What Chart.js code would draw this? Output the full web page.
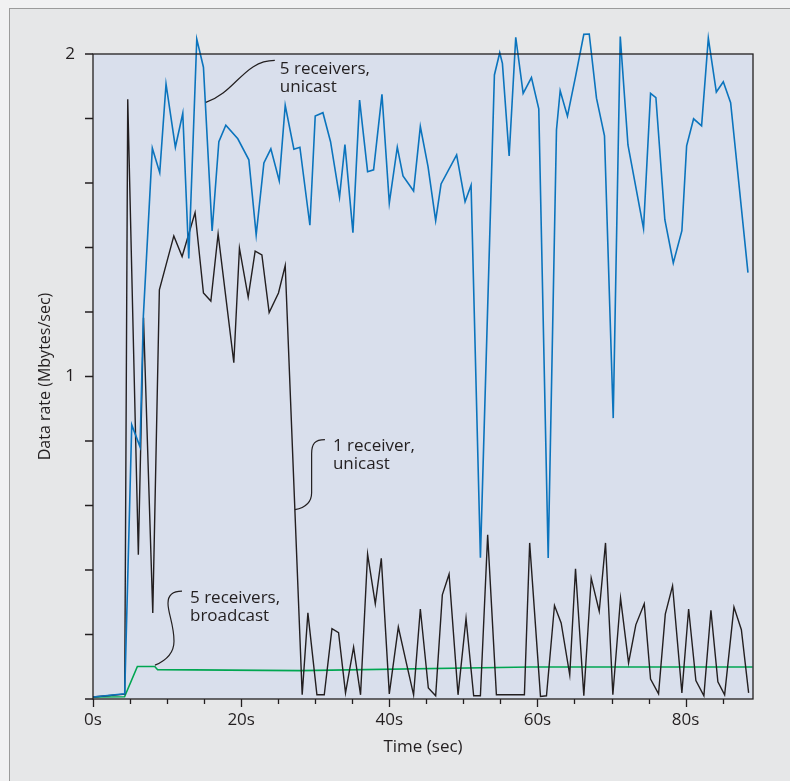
<!DOCTYPE html>
<html lang="en">
<head>
<meta charset="UTF-8">
<title>Data rate</title>
<script src="https://cdn.jsdelivr.net/npm/chart.js@4.4.1/dist/chart.umd.min.js"></script>
<style>
*{
  margin: 0;
  padding: 0;
  box-sizing: border-box;
}
body{
  width: 790px;
  height: 781px;
  overflow: hidden;
  background: #f1f1f2;
  position: relative;
}
.frame{
  position: absolute;
  left: 9px;
  top: 8px;
  width: 800px;
  height: 800px;
  background: #e6e7e8;
  border-left: 1px solid #9b9b9b;
  border-top: 1px solid #9b9b9b;
}
#wrap{
  position: absolute;
  left: 0;
  top: 0;
  width: 790px;
  height: 781px;
}
</style>
</head>
<body>
<div class="frame"></div>
<div id="wrap"><canvas id="rateChart"></canvas></div>
<script>
// 5 receivers, unicast (blue)
const uni5Time = [0, 4.28, 5.23, 6.35, 6.80, 8.01, 9.01, 9.86, 11.12, 12.12, 12.93, 14.01, 14.91, 16.08, 16.99, 17.93, 19.55, 21.04, 22.03, 23.07, 24.01, 25.14, 25.95, 27.12, 27.93, 29.28, 30.0, 31.04, 32.07, 33.28, 34.01, 35.09, 35.99, 37.07, 37.88, 39.01, 40.0, 41.08, 41.85, 43.28, 44.19, 45.23, 46.26, 46.99, 49.09, 50.23, 51.04, 52.30, 54.19, 54.91, 55.27, 56.18, 57.07, 58.07, 59.19, 60.18, 61.45, 62.57, 63.07, 64.05, 65.14, 66.26, 66.99, 67.97, 69.05, 70.23, 71.18, 72.22, 74.32, 75.27, 75.99, 77.20, 78.34, 79.50, 80.14, 81.08, 82.16, 83.07, 84.15, 85.09, 86.08, 88.42];
const uni5Rate = [0.006, 0.016, 0.850, 0.782, 1.188, 1.708, 1.632, 1.907, 1.711, 1.816, 1.366, 2.046, 1.959, 1.451, 1.728, 1.779, 1.737, 1.672, 1.439, 1.662, 1.706, 1.607, 1.841, 1.705, 1.711, 1.469, 1.808, 1.818, 1.728, 1.556, 1.719, 1.446, 1.857, 1.635, 1.641, 1.875, 1.538, 1.711, 1.622, 1.575, 1.775, 1.651, 1.483, 1.597, 1.687, 1.542, 1.593, 0.438, 1.935, 2.004, 1.971, 1.684, 2.052, 1.878, 1.927, 1.830, 0.437, 1.765, 1.886, 1.807, 1.930, 2.061, 2.062, 1.863, 1.746, 0.871, 2.054, 1.718, 1.459, 1.878, 1.865, 1.486, 1.352, 1.452, 1.715, 1.799, 1.777, 2.049, 1.882, 1.914, 1.849, 1.322];

// 1 receiver, unicast (black)
const uni1Time = [0, 4.28, 4.69, 6.12, 6.82, 8.07, 8.96, 10.91, 12.03, 13.78, 14.91, 15.91, 16.89, 19.01, 19.77, 20.95, 21.89, 22.80, 23.78, 25.04, 25.95, 28.24, 29.01, 30.23, 31.22, 32.26, 33.15, 34.09, 35.18, 36.12, 37.07, 38.11, 38.92, 40.0, 41.22, 42.30, 43.28, 44.19, 45.27, 46.26, 47.16, 48.07, 49.28, 50.36, 51.39, 52.30, 53.28, 54.46, 58.24, 58.95, 60.41, 61.22, 62.30, 63.20, 64.36, 65.14, 66.26, 67.26, 68.34, 69.19, 70.18, 71.22, 72.30, 73.28, 74.42, 75.27, 76.35, 77.26, 78.24, 79.50, 80.41, 81.39, 82.47, 83.42, 84.36, 85.27, 86.53, 87.53, 88.51];
const uni1Rate = [0.006, 0.015, 1.860, 0.447, 1.182, 0.267, 1.269, 1.436, 1.372, 1.508, 1.259, 1.234, 1.442, 1.043, 1.398, 1.246, 1.389, 1.377, 1.198, 1.259, 1.344, 0.013, 0.267, 0.013, 0.013, 0.218, 0.206, 0.019, 0.161, 0.013, 0.449, 0.295, 0.436, 0.016, 0.223, 0.112, 0.013, 0.279, 0.034, 0.010, 0.323, 0.387, 0.013, 0.250, 0.010, 0.010, 0.509, 0.013, 0.013, 0.484, 0.008, 0.010, 0.290, 0.236, 0.075, 0.404, 0.010, 0.375, 0.272, 0.484, 0.013, 0.313, 0.112, 0.230, 0.295, 0.062, 0.016, 0.263, 0.351, 0.019, 0.279, 0.057, 0.010, 0.275, 0.053, 0.013, 0.285, 0.215, 0.019];

// 5 receivers, broadcast (green)
const bcastTime = [0, 4.26, 5.99, 8.34, 8.72, 27.97, 59.05, 89.05];
const bcastRate = [0.006, 0.007, 0.101, 0.101, 0.091, 0.088, 0.099, 0.099];

const xLabelEvery = 20;
const xMinorStep = 5;
const yStep = 0.2;
const yLabels = [1, 2];

function pairs(ts, vs) {
  return ts.map((t, i) => ({x: t, y: vs[i]}));
}

const ink = '#231f20';
const font = '"Open Sans", "DejaVu Sans", sans-serif';

// callouts, anchored on the data scale, drawn in pixel offsets from there
const notes = [
  {lines: ['5 receivers,', 'unicast'], t: 15.23, v: 1.85, tx: 74, ty: [-33, -15],
   draw: (c) => { c.moveTo(0, 0); c.bezierCurveTo(30, -10, 38, -42, 69, -42); }},
  {lines: ['1 receiver,', 'unicast'], t: 27.26, v: 0.587, tx: 38, ty: [-64, -46],
   draw: (c) => { c.moveTo(0, 0); c.bezierCurveTo(10, -2, 16.7, -7, 16.7, -17); c.lineTo(16.7, -56); c.bezierCurveTo(16.7, -66, 20, -70, 30, -70); }},
  {lines: ['5 receivers,', 'broadcast'], t: 8.37, v: 0.105, tx: 35, ty: [-67, -49],
   draw: (c) => { c.moveTo(0, 0); c.bezierCurveTo(14, -6, 19, -14, 19, -24); c.bezierCurveTo(19, -40, 13, -52, 13, -62); c.bezierCurveTo(13, -72, 20, -74, 27, -74); }}
];

const chartDecor = {
  id: 'chartDecor',
  beforeDraw(chart) {
    const {ctx, chartArea: a} = chart;
    ctx.save();
    ctx.fillStyle = '#d9dfec';
    ctx.fillRect(a.left, a.top, a.right - a.left, a.bottom - a.top);
    ctx.restore();
  },
  afterDraw(chart) {
    const {ctx, chartArea: a, scales} = chart;
    const xs = scales.x, ys = scales.y;
    ctx.save();
    ctx.strokeStyle = ink;
    ctx.lineWidth = 1.3;
    ctx.strokeRect(a.left, a.top, a.right - a.left, a.bottom - a.top);
    ctx.beginPath();
    for (let t = 0; t <= xs.max; t += xMinorStep) {
      const px = Math.round(xs.getPixelForValue(t)) + 0.5;
      const len = t % xLabelEvery === 0 ? 8 : 5;
      ctx.moveTo(px, a.bottom);
      ctx.lineTo(px, a.bottom + len);
    }
    for (let i = 0; i <= Math.round(ys.max / yStep); i++) {
      const py = ys.getPixelForValue(i * yStep);
      ctx.moveTo(a.left - 8, py);
      ctx.lineTo(a.left, py);
    }
    ctx.stroke();

    ctx.lineWidth = 1.2;
    ctx.fillStyle = ink;
    ctx.font = '17px ' + font;
    ctx.textBaseline = 'middle';
    ctx.textAlign = 'left';
    notes.forEach(n => {
      const ax = xs.getPixelForValue(n.t);
      const ay = ys.getPixelForValue(n.v);
      ctx.save();
      ctx.translate(ax, ay);
      ctx.beginPath();
      n.draw(ctx);
      ctx.stroke();
      n.lines.forEach((s, i) => ctx.fillText(s, n.tx, n.ty[i]));
      ctx.restore();
    });
    ctx.restore();
  }
};

const config = {
  type: 'line',
  data: {
    datasets: [
      {
        label: '5 receivers, unicast',
        data: pairs(uni5Time, uni5Rate),
        borderColor: '#0b74bd',
        borderWidth: 1.6,
        order: 0
      },
      {
        label: '1 receiver, unicast',
        data: pairs(uni1Time, uni1Rate),
        borderColor: ink,
        borderWidth: 1.4,
        order: 1
      },
      {
        label: '5 receivers, broadcast',
        data: pairs(bcastTime, bcastRate),
        borderColor: '#00a651',
        borderWidth: 1.6,
        order: 2
      }
    ]
  },
  options: {
    responsive: true,
    maintainAspectRatio: false,
    animation: false,
    layout: {padding: {left: 0, top: 54, right: 37, bottom: 0}},
    elements: {
      point: {radius: 0},
      line: {tension: 0, fill: false}
    },
    datasets: {line: {clip: false}},
    plugins: {
      legend: {display: false},
      tooltip: {enabled: false}
    },
    scales: {
      x: {
        type: 'linear',
        min: 0,
        max: 89.1,
        afterFit: (s) => { s.height = 82; },
        border: {display: false},
        grid: {display: true, drawOnChartArea: false, drawTicks: true, tickLength: 8, color: 'rgba(0,0,0,0)'},
        ticks: {
          stepSize: xMinorStep,
          autoSkip: false,
          includeBounds: false,
          maxRotation: 0,
          padding: 3,
          color: ink,
          font: {family: font, size: 17},
          callback: (v) => (v % xLabelEvery === 0 ? v + 's' : '')
        },
        title: {
          display: true,
          text: 'Time (sec)',
          color: ink,
          font: {family: font, size: 17},
          padding: {top: 0, bottom: 24}
        }
      },
      y: {
        min: 0,
        max: 2,
        afterFit: (s) => { s.width = 93; },
        border: {display: false},
        grid: {display: true, drawOnChartArea: false, drawTicks: true, tickLength: 8, color: 'rgba(0,0,0,0)'},
        ticks: {
          stepSize: yStep,
          autoSkip: false,
          padding: 10,
          color: ink,
          font: {family: font, size: 17},
          callback: (v) => (yLabels.some(l => Math.abs(l - v) < 1e-6) ? String(Math.round(v)) : '')
        },
        title: {
          display: true,
          text: 'Data rate (Mbytes/sec)',
          color: ink,
          font: {family: font, size: 16},
          padding: {top: 36, bottom: 0}
        }
      }
    }
  },
  plugins: [chartDecor]
};

const rateChart = new Chart(document.getElementById('rateChart'), config);
</script>
</body>
</html>
